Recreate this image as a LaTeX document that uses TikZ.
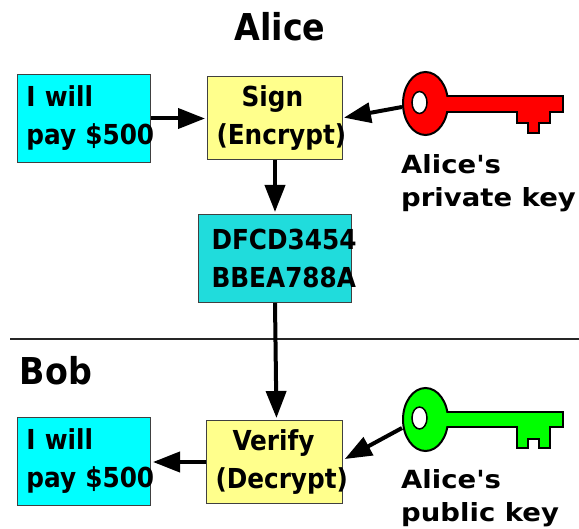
\documentclass[tikz,border=0pt]{standalone}
\usepackage{fontspec}
\usetikzlibrary{arrows.meta,shapes.geometric}
\setmainfont{DejaVu Sans}
\newfontfamily\condfont{DejaVu Sans Condensed}
\newfontfamily\widefont[FakeStretch=1.1]{DejaVu Sans}
\definecolor{boxedge}{HTML}{404040}
\definecolor{paleyellow}{HTML}{FFFF8C}
\definecolor{hashteal}{HTML}{20DCDC}
\definecolor{msgcyan}{HTML}{00FFFF}
\definecolor{keyred}{HTML}{FF0000}
\definecolor{keygreen}{HTML}{00FF00}
\tikzset{
  x=1pt,y=-1pt,
  flowbox/.style={draw=boxedge,line width=1pt,rectangle,inner sep=0pt,anchor=north west,
    text width=#1,align=left,font=\condfont\bfseries\fontsize{27.5}{38}\selectfont},
  arrowline/.style={line width=4pt,-{Triangle[length=27pt,width=20pt]},shorten >=2pt},
  caption/.style={font=\widefont\bfseries\fontsize{25}{33}\selectfont,anchor=north west,inner sep=0pt,align=left},
  heading/.style={font=\condfont\bfseries\fontsize{37}{40}\selectfont,inner sep=0pt},
  keyline/.style={draw=black,line width=2pt},
  keyhead/.style={ellipse,minimum width=45pt,minimum height=63pt,inner sep=0pt},
}
\newcommand{\tl}[2]{\hspace*{#1pt}\makebox[0pt][l]{#2}}
\begin{document}
\begin{tikzpicture}
\useasboundingbox (0,0) rectangle (579,529);
% keys
\path[keyline,fill=keyred] (430,96) -- (563,96) -- (563,112) -- (550,112) -- (550,123) -- (539,123) -- (539,133) -- (528,133) -- (528,123) -- (517,123) -- (517,112) -- (430,112) -- cycle;
\node[keyhead,keyline,fill=keyred] (keyA) at (425.5,103.5) {};
\fill[keyred] (430,97) rectangle (455,111);
\node[ellipse,draw=black,line width=1.5pt,fill=white,minimum width=15pt,minimum height=22pt,inner sep=0pt] (holeA) at (419.5,102.5) {};
\path[keyline,fill=keygreen] (430,412) -- (563,412) -- (563,427) -- (550,427) -- (550,448) -- (539,448) -- (539,439) -- (528,439) -- (528,448) -- (517,448) -- (517,427) -- (430,427) -- cycle;
\node[keyhead,keyline,fill=keygreen] (keyB) at (425.5,419.5) {};
\fill[keygreen] (430,413) rectangle (455,426);
\node[ellipse,draw=black,line width=1.5pt,fill=white,minimum width=15pt,minimum height=22pt,inner sep=0pt] (holeB) at (419.5,418) {};
% boxes
\node[flowbox=133pt,fill=msgcyan,minimum height=88pt] (msgA) at (17,74) {\tl{9}{I will}\\\tl{9}{pay \$500}};
\node[flowbox=135pt,fill=paleyellow,minimum height=83pt] (sign) at (207,76) {\tl{34}{Sign}\\\tl{9}{(Encrypt)}};
\node[flowbox=153pt,fill=hashteal,minimum height=88pt] (hash) at (198,214) {\tl{13}{DFCD3454}\\\tl{13}{BBEA788A}};
\node[flowbox=136pt,fill=paleyellow,minimum height=83pt] (verify) at (206,420) {\tl{26}{Verify}\\\tl{9}{(Decrypt)}};
\node[flowbox=133pt,fill=msgcyan,minimum height=88pt] (msgB) at (17,417) {\tl{9}{I will}\\\tl{9}{pay \$500}};
% divider
\coordinate (ruleL) at (10,339);
\coordinate (ruleR) at (579,339);
\draw[line width=2.4pt,black!85] (ruleL) -- (ruleR);
% headings
\node[heading] (alice) at (280,27) {Alice};
\node[heading] (bob) at (56,371) {Bob};
% captions
\node[caption] (capA) at (401,154) {Alice\char"27 s\\private key};
\node[caption] (capB) at (401,469) {Alice\char"27 s\\public key};
% connectors
\coordinate (inA) at (342,118);
\coordinate (inB) at (343,460);
\draw[arrowline] (msgA.east) -- (sign.west |- msgA.east);
\draw[arrowline] (keyA.west |- 0,107) -- (inA);
\draw[arrowline] (sign.south) -- (hash.north);
\draw[arrowline] (hash.south) -- ([xshift=2pt]verify.north);
\draw[arrowline] (keyB.west |- 0,428) -- (inB);
\draw[arrowline] (verify.west) -- (msgB.east |- verify.west);
\end{tikzpicture}
\end{document}
